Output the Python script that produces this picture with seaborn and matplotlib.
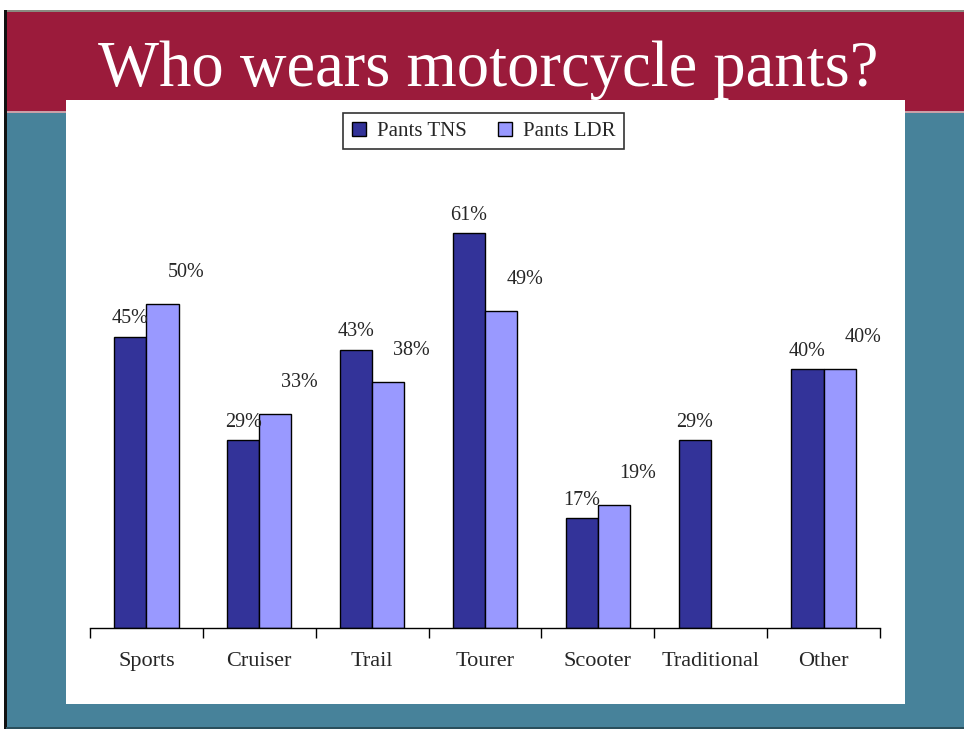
#!/usr/bin/env python
"""
Who wears motorcycle pants? - grouped bar chart on a slide-like background
"""

import numpy as np
import pandas as pd
import matplotlib.pyplot as plt
import seaborn as sns
from matplotlib.patches import Rectangle

sns.set_style("white")
plt.rcParams['font.family'] = ['Liberation Serif', 'DejaVu Serif']

# data (percent)
categories = ['Sports', 'Cruiser', 'Trail', 'Tourer', 'Scooter', 'Traditional', 'Other']
pants_tns = [45, 29, 43, 61, 17, 29, 40]
pants_ldr = [50, 33, 38, 49, 19, np.nan, 40]
series = ['Pants TNS', 'Pants LDR']
colors = ['#333399', '#9999FF']

df = pd.DataFrame({
    'category': categories * 2,
    'series': [series[0]] * len(categories) + [series[1]] * len(categories),
    'value': pants_tns + pants_ldr,
})

fig = plt.figure(figsize=(9.64, 7.31), dpi=100)
fig.patch.set_facecolor('white')

W, H = 964, 731

def px_rect(x0, y0, x1, y1, color, z=-10):
    # rectangle given in pixel coords (origin top-left)
    fig.patches.append(Rectangle((x0 / W, 1 - y1 / H), (x1 - x0) / W, (y1 - y0) / H,
                                 transform=fig.transFigure, facecolor=color,
                                 edgecolor='none', zorder=z))

# slide background
px_rect(6, 10, W, 729, '#47829A', z=-12)
px_rect(6, 10, W, 12, '#8a8a80', z=-11)
px_rect(6, 12, W, 111, '#9B1B3B', z=-11)
px_rect(6, 111, W, 113, '#c9a0a8', z=-11)
px_rect(4, 10, 7, 729, '#111111', z=-10)
px_rect(6, 727, W, 729, '#2a4f5c', z=-10)
# white chart panel
px_rect(66, 100, 905, 704, 'white', z=-9)

fig.text(488 / W, 1 - 70 / H, 'Who wears motorcycle pants?', color='white',
         fontsize=46.5, ha='center', va='center')

# plot area
ax = fig.add_axes([90 / W, 1 - 628 / H, 790 / W, 468 / H])
ax.set_facecolor('none')

sns.barplot(data=df, x='category', y='value', hue='series', order=categories,
            hue_order=series, palette=colors, width=0.57, gap=0,
            edgecolor='black', linewidth=1, saturation=1, ax=ax)

ax.set_ylim(0, 72.3)
ax.set_xlim(-0.5, len(categories) - 0.5)
for s in ['top', 'right', 'left']:
    ax.spines[s].set_visible(False)
ax.spines['bottom'].set_color('black')
ax.spines['bottom'].set_linewidth(1)
ax.set_yticks([])
ax.set_xlabel('')
ax.set_ylabel('')
ax.set_xticks(range(len(categories)))
ax.set_xticklabels(categories, fontsize=16)
ax.tick_params(axis='x', which='major', bottom=False, length=0, pad=17)
ax.set_xticks(np.arange(-0.5, len(categories), 1), minor=True)
ax.tick_params(axis='x', which='minor', bottom=True, length=7, width=1,
               color='black', direction='out')

# value labels
for i, cont in enumerate(ax.containers[:2]):
    for bar in cont:
        h = bar.get_height()
        if np.isnan(h):
            continue
        cx = bar.get_x() + bar.get_width() / 2
        off = (0, 6) if i == 0 else (17, 16)
        ax.annotate(f'{h:.0f}%', (cx, h), xytext=off, textcoords='offset points',
                    ha='center', va='bottom', fontsize=14.5)

leg = ax.legend(loc='upper center', bbox_to_anchor=(0.498, 1.10), ncol=2,
                frameon=True, fancybox=False, fontsize=15, handlelength=0.7,
                handleheight=0.7, handletextpad=0.5, columnspacing=1.5,
                borderpad=0.4, borderaxespad=0)
leg.get_frame().set_edgecolor('black')
leg.get_frame().set_linewidth(1.2)
leg.set_title(None)

fig.savefig('out.png', dpi=100)
